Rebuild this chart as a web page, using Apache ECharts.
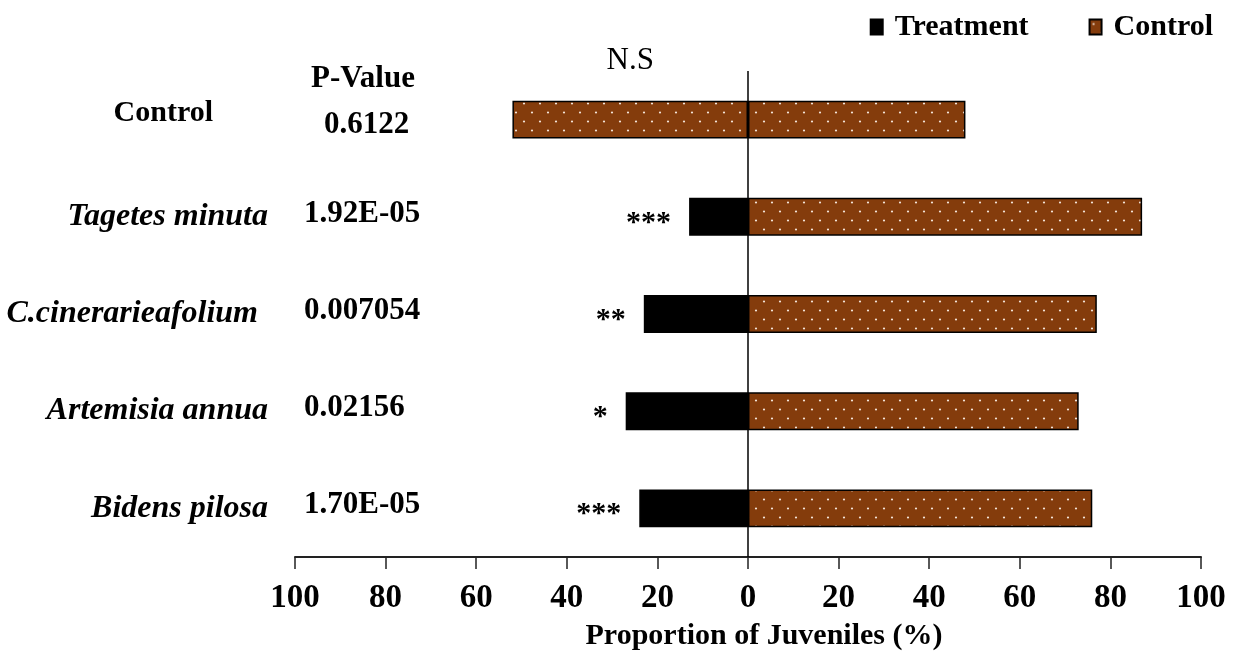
<!DOCTYPE html>
<html>
<head>
<meta charset="utf-8">
<script src="https://cdn.jsdelivr.net/npm/echarts@6/dist/echarts.min.js"></script>
<style>
  html, body { margin: 0; padding: 0; background: #fff; }
  #chart { width: 1244px; height: 658px; }
</style>
</head>
<body>
<div id="chart"></div>
<script>
// Proportion of juveniles per extract: treatment side (left) and control side (right)
const categories = ['Control', 'Tagetes minuta', 'C.cinerarieafolium', 'Artemisia annua', 'Bidens pilosa'];
const treatment = [52, 13, 23, 27, 24];
const control = [48, 87, 77, 73, 76];
const pValues = ['0.6122', '1.92E-05', '0.007054', '0.02156', '1.70E-05'];
const significance = ['N.S', '***', '**', '*', '***'];

const SERIF = "'Liberation Serif', 'Times New Roman', serif";
const BROWN = '#843C0C';

// Brown fill with a staggered grid of small white dots
function dottedPattern() {
  const c = document.createElement('canvas');
  c.width = 16; c.height = 18;
  const g = c.getContext('2d');
  g.fillStyle = BROWN;
  g.fillRect(0, 0, 16, 18);
  g.fillStyle = '#f3e4d8';
  [[4, 4.5], [12, 13.5]].forEach(([x, y]) => {
    g.beginPath();
    g.arc(x, y, 1.1, 0, Math.PI * 2);
    g.fill();
  });
  return c;
}
const dots = { image: dottedPattern(), repeat: 'repeat' };

const chart = echarts.init(document.getElementById('chart'), null, { renderer: 'canvas' });

// Treatment goes to the left of zero; the Control row is a control-vs-control split
const treatmentData = treatment.map((v, i) => {
  const item = { value: -v };
  if (i === 0) {
    item.itemStyle = { color: dots };
    item.label = { position: 'top', distance: 24, fontWeight: 'normal', fontSize: 31, offset: [0, 0] };
  }
  return item;
});

chart.setOption({
  animation: false,
  backgroundColor: '#fff',
  title: {
    text: 'P-Value',
    left: 311,
    top: 63,
    padding: 0,
    textStyle: { fontFamily: SERIF, fontWeight: 'bold', fontSize: 31, color: '#000' }
  },
  legend: {
    data: ['Treatment', 'Control'],
    right: 26,
    top: 7,
    icon: 'rect',
    itemWidth: 12,
    itemHeight: 15,
    itemGap: 60,
    textStyle: { fontFamily: SERIF, fontWeight: 'bold', fontSize: 30, color: '#000', padding: [0, 0, 0, 7] }
  },
  grid: { left: 295, right: 43, top: 71, bottom: 101, containLabel: false },
  xAxis: {
    type: 'value',
    min: -100,
    max: 100,
    interval: 20,
    splitLine: { show: false },
    axisLine: { show: true, lineStyle: { color: '#222', width: 2 } },
    axisTick: { show: true, length: 12, lineStyle: { color: '#222', width: 1.5 } },
    axisLabel: {
      margin: 25,
      fontFamily: SERIF,
      fontWeight: 'bold',
      fontSize: 33,
      color: '#000',
      formatter: v => String(Math.abs(v))
    },
    name: 'Proportion of Juveniles (%)',
    nameLocation: 'middle',
    nameGap: 64,
    nameTextStyle: { fontFamily: SERIF, fontWeight: 'bold', fontSize: 30, color: '#000', padding: [0, 0, 0, 32] }
  },
  yAxis: [
    {
      type: 'category',
      inverse: true,
      data: categories,
      position: 'left',
      axisLine: { show: false, onZero: false },
      axisTick: { show: false },
      axisLabel: {
        margin: 27,
        color: '#000',
        fontFamily: SERIF,
        formatter: (v, i) => (i === 0 ? '{c|' + v + '}' : i === 2 ? '{n|' + v + '}' : '{i|' + v + '}'),
        rich: {
          c: { fontFamily: SERIF, fontWeight: 'bold', fontSize: 30, color: '#000', padding: [0, 55, 12, 0] },
          i: { fontFamily: SERIF, fontWeight: 'bold', fontStyle: 'italic', fontSize: 32, color: '#000' },
          n: { fontFamily: SERIF, fontWeight: 'bold', fontStyle: 'italic', fontSize: 32, color: '#000', padding: [0, 10, 0, 0] }
        }
      }
    },
    {
      type: 'category',
      inverse: true,
      data: categories,
      position: 'left',
      axisLine: { show: false, onZero: false },
      axisTick: { show: false },
      axisLabel: {
        inside: true,
        margin: 9,
        color: '#000',
        fontFamily: SERIF,
        formatter: (v, i) => (i === 0 ? '{h|' + pValues[i] + '}' : '{p|' + pValues[i] + '}'),
        rich: {
          h: { fontFamily: SERIF, fontWeight: 'bold', fontSize: 31, color: '#000', padding: [10, 0, 0, 20] },
          p: { fontFamily: SERIF, fontWeight: 'bold', fontSize: 31, color: '#000', padding: [0, 0, 6, 0] }
        }
      }
    }
  ],
  series: [
    {
      name: 'Treatment',
      type: 'bar',
      yAxisIndex: 0,
      barWidth: '39%',
      barGap: '-100%',
      data: treatmentData,
      itemStyle: { color: '#000', borderColor: '#000', borderWidth: 1.5 },
      label: {
        show: true,
        position: 'left',
        distance: 18,
        offset: [0, 6],
        fontFamily: SERIF,
        fontWeight: 'bold',
        fontSize: 30,
        color: '#000',
        formatter: p => significance[p.dataIndex]
      }
    },
    {
      name: 'Control',
      type: 'bar',
      yAxisIndex: 0,
      barWidth: '39%',
      barGap: '-100%',
      data: control,
      itemStyle: { color: dots, borderColor: '#000', borderWidth: 1.5 },
      markLine: {
        silent: true,
        symbol: 'none',
        label: { show: false },
        lineStyle: { color: '#000', width: 1.5, type: 'solid' },
        data: [{ xAxis: 0 }]
      }
    }
  ]
});
</script>
</body>
</html>
